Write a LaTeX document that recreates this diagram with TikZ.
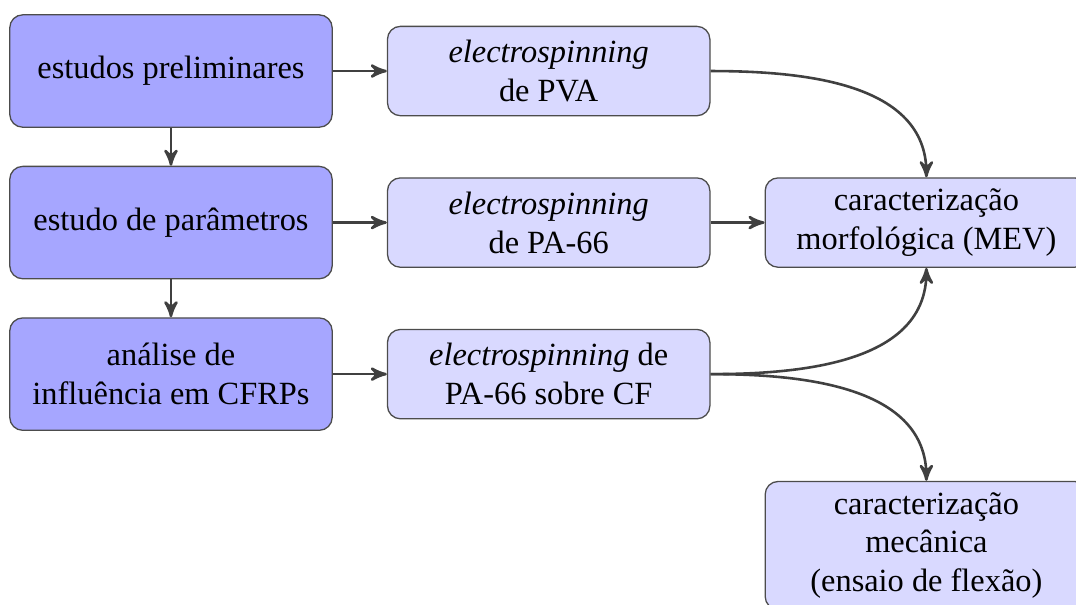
\documentclass[tikz,border=0pt]{standalone}
\usepackage{fontspec}
\setmainfont{Liberation Serif}
\usetikzlibrary{arrows}

\begin{document}
\begin{tikzpicture}[
    etapa/.style={rectangle, draw=black!70, fill=blue!35, rounded corners, align=center,
        minimum width=3.5cm, minimum height=1.22cm},
    tarefa/.style={rectangle, draw=black!70, fill=blue!15, rounded corners, align=center,
        minimum width=3.5cm, minimum height=0.97cm},
    seta/.style={->, thick, >=stealth', color=black!75}
]
\useasboundingbox (-1.856, 0.771) rectangle (9.824, -5.786);
\clip (-1.856, 0.771) rectangle (9.824, -5.786);

\node[etapa] (prelim) at (0, 0) {estudos preliminares};
\node[etapa] (param) at (0, -1.645) {estudo de parâmetros};
\node[etapa] (cfrp) at (0, -3.29) {análise de\\influência em CFRPs};

\node[tarefa] (pva) at (4.1, 0) {\textit{electrospinning}\\de PVA};
\node[tarefa] (pa) at (4.1, -1.645) {\textit{electrospinning}\\de PA-66};
\node[tarefa] (pacf) at (4.1, -3.29) {\textit{electrospinning} de\\PA-66 sobre CF};

\node[tarefa] (mev) at (8.2, -1.645) {caracterização\\morfológica (MEV)};
\node[tarefa] (flex) at (8.2, -5.15) {caracterização\\mecânica\\(ensaio de flexão)};

\draw[seta] (prelim) -- (param);
\draw[seta] (param) -- (cfrp);

\draw[seta] (prelim) -- (pva);
\draw[seta] (param) -- (pa);
\draw[seta] (cfrp) -- (pacf);

\draw[seta] (pva.east) to[out=0, in=90] (mev.north);
\draw[seta] (pa) -- (mev);
\draw[seta] (pacf.east) to[out=0, in=-90] (mev.south);
\draw[seta] (pacf.east) to[out=0, in=90] (flex.north);
\end{tikzpicture}
\end{document}
